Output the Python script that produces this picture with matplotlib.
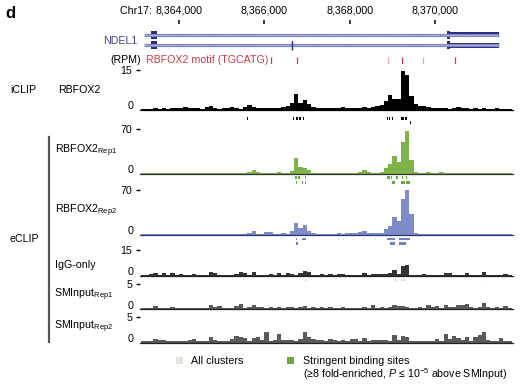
import numpy as np
import matplotlib
matplotlib.use("Agg")
import matplotlib.pyplot as plt
from matplotlib.lines import Line2D
from matplotlib.patches import Rectangle

plt.rcParams['font.family'] = ['Liberation Sans', 'DejaVu Sans']
plt.rcParams['mathtext.fontset'] = 'custom'
plt.rcParams['mathtext.rm'] = 'Liberation Sans'
plt.rcParams['mathtext.it'] = 'Liberation Sans:italic'
plt.rcParams['mathtext.bf'] = 'Liberation Sans:bold'

# ---------------- data ----------------
XMIN, XMAX = 8363086, 8371828
BIN_START, BIN = 8363100, 100
ruler_ticks = [8364000, 8366000, 8368000, 8370000]
ruler_labels = ["8,364,000", "8,366,000", "8,368,000", "8,370,000"]

tx_start, tx_end = 8363180, 8371500
t1_coding = [(8363344, 8363484), (8370281, 8370352)]
t2_coding = [(8363344, 8363484), (8366650, 8366672), (8370281, 8370352)]
utr = [(8370352, 8371500)]

motif_pos = [8366156, 8366766, 8368898, 8369227, 8369719, 8370469]
motif_strong = [True, True, False, True, False, True]

iclip = [0.2, 0.3, 0.2, 0.5, 0.3, 0.6, 0.3, 0.4, 0.7, 0.4,
         0.8, 0.5, 0.6, 0.4, 0.3, 0.9, 1.2, 0.4, 0.3, 0.5,
         0.4, 0.9, 0.7, 0.3, 1.0, 1.6, 0.8, 0.6, 0.5, 0.7,
         0.4, 0.6, 0.5, 0.9, 1.5, 2.5, 5.8, 2.6, 3.5, 2.0,
         0.8, 0.4, 0.5, 0.6, 0.4, 0.5, 0.4, 0.9, 0.7, 0.5,
         0.6, 0.5, 0.8, 0.7, 0.9, 1.2, 1.8, 3.2, 5.5, 4.0,
         3.8, 14.5, 13.2, 5.0, 2.2, 1.5, 1.2, 1.0, 0.6, 0.5,
         0.4, 0.5, 0.3, 0.6, 0.8, 0.7, 0.4, 0.3, 0.5, 0.3,
         0.4, 0.3, 0.2, 0.4, 0.3, 0.2, 0.3]
rep1 = [0.3, 0.4, 0.3, 0.4, 0.3, 0.5, 0.3, 0.4, 0.3, 0.4,
        0.3, 0.4, 0.3, 0.5, 0.4, 0.4, 0.5, 0.3, 0.6, 0.5,
        0.5, 0.8, 1.5, 0.6, 1.0, 2.5, 6.0, 2.0, 1.0, 0.8,
        1.2, 0.8, 1.8, 1.0, 1.5, 4.0, 24.0, 11.0, 8.0, 5.0,
        1.5, 1.0, 0.8, 1.2, 0.7, 0.8, 0.6, 1.0, 0.8, 0.7,
        1.0, 1.8, 5.0, 2.5, 1.5, 1.5, 2.5, 9.0, 15.0, 27.0,
        18.0, 50.0, 67.0, 22.0, 3.0, 1.5, 1.2, 1.8, 0.8, 0.6,
        2.0, 0.8, 0.5, 0.6, 0.5, 0.8, 0.5, 0.4, 0.6, 0.4,
        0.4, 0.3, 0.5, 0.3, 0.3, 0.2, 0.3]
rep2 = [0.3, 0.3, 0.4, 0.3, 0.3, 0.4, 0.3, 0.3, 0.4, 0.3,
        0.3, 0.4, 0.3, 0.3, 0.4, 0.3, 0.4, 0.3, 0.5, 0.4,
        0.6, 0.5, 1.5, 0.6, 1.0, 3.0, 5.0, 1.5, 1.0, 3.5,
        4.0, 1.0, 1.5, 3.0, 1.5, 5.0, 18.0, 10.0, 15.0, 6.0,
        2.0, 1.0, 1.2, 1.5, 0.8, 1.5, 2.0, 1.5, 3.0, 1.8,
        2.5, 4.5, 5.0, 3.0, 2.5, 2.0, 3.0, 8.0, 14.0, 28.0,
        22.0, 56.0, 70.0, 33.0, 2.0, 1.0, 0.8, 1.2, 0.6, 0.8,
        1.0, 1.2, 1.5, 1.0, 0.6, 0.8, 0.5, 0.6, 1.5, 0.5,
        0.6, 0.4, 0.3, 0.4, 0.3, 0.2, 0.3]
igg = [0.3, 0.5, 0.6, 1.2, 0.4, 1.2, 0.4, 1.2, 0.3, 0.8,
       0.3, 0.4, 0.6, 0.3, 0.4, 0.3, 2.2, 1.2, 0.3, 0.4,
       0.3, 0.5, 0.8, 2.0, 1.5, 0.5, 2.0, 0.5, 0.3, 0.4,
       1.0, 0.4, 1.2, 0.3, 1.2, 1.0, 0.5, 1.5, 2.5, 1.8,
       0.4, 0.3, 0.8, 0.3, 1.0, 0.3, 0.8, 0.6, 0.3, 0.4,
       0.3, 0.5, 1.5, 0.4, 0.8, 0.8, 0.6, 0.8, 1.5, 3.0,
       1.0, 5.5, 6.2, 0.5, 0.3, 0.4, 0.8, 0.3, 0.3, 0.3,
       0.4, 1.2, 1.5, 0.5, 0.3, 0.4, 1.5, 0.4, 0.3, 0.3,
       1.8, 0.3, 0.3, 0.3, 0.3, 0.6, 0.3]
sminput1 = [0.2, 0.3, 0.2, 0.6, 0.3, 0.2, 0.3, 0.5, 0.2, 0.2,
            0.3, 0.3, 0.2, 0.3, 0.3, 0.2, 0.8, 0.4, 0.6, 0.2,
            0.3, 0.3, 0.7, 1.0, 0.3, 0.4, 0.8, 0.5, 0.5, 0.3,
            0.4, 0.3, 0.5, 0.3, 0.4, 0.4, 0.3, 0.4, 0.6, 0.3,
            0.4, 0.3, 0.4, 0.3, 0.5, 0.3, 0.2, 0.4, 0.3, 0.2,
            0.3, 0.3, 0.4, 0.3, 0.8, 0.3, 0.4, 0.3, 0.4, 0.8,
            0.7, 0.6, 0.5, 0.3, 0.2, 0.4, 0.3, 0.8, 0.4, 0.6,
            0.3, 0.8, 0.5, 0.4, 0.9, 0.8, 1.0, 0.5, 0.3, 0.4,
            1.2, 0.4, 0.3, 0.5, 0.3, 0.7, 0.2]
sminput2 = [0.2, 0.2, 0.3, 0.65, 0.4, 0.5, 0.3, 0.3, 0.2, 0.2,
            0.2, 0.5, 0.7, 0.3, 0.2, 0.2, 1.0, 0.4, 0.2, 0.3,
            0.3, 0.7, 1.3, 1.1, 0.8, 0.3, 0.8, 1.0, 0.4, 2.0,
            0.3, 0.4, 1.6, 0.5, 0.5, 0.4, 0.3, 0.6, 2.1, 1.0,
            0.6, 0.4, 0.5, 0.3, 0.6, 0.4, 0.3, 0.5, 0.3, 0.6,
            0.6, 0.3, 0.8, 0.3, 0.5, 0.5, 0.4, 0.5, 0.3, 1.4,
            0.5, 1.2, 1.1, 0.3, 0.2, 0.2, 0.3, 0.3, 0.2, 0.6,
            0.3, 1.7, 0.6, 1.3, 0.8, 0.4, 1.1, 0.3, 1.0, 1.4,
            2.0, 0.4, 0.3, 0.3, 0.9, 0.3, 0.2]

# clusters: (start, end, row, stringent)
iclip_clusters = [(8365590, 8365615, 0, True), (8366665, 8366690, 0, True),
                  (8366735, 8366800, 0, True), (8366820, 8366850, 0, True),
                  (8366895, 8366920, 0, True), (8368870, 8368890, 0, True),
                  (8368920, 8368945, 0, True), (8368995, 8369020, 0, True),
                  (8369210, 8369270, 0, True), (8369290, 8369340, 0, True),
                  (8366990, 8367010, 1, True), (8369265, 8369285, 1, True),
                  (8369425, 8369445, 1, True)]
rep1_clusters = [(8365770, 8365790, 0, False), (8366720, 8366760, 0, True),
                 (8366780, 8366830, 0, True), (8366960, 8366985, 0, True),
                 (8368350, 8368370, 0, False), (8368880, 8368940, 0, True),
                 (8368960, 8369000, 0, True), (8369090, 8369140, 0, True),
                 (8369230, 8369260, 0, True), (8369320, 8369345, 0, True),
                 (8366740, 8366760, 1, True), (8366880, 8366900, 1, True),
                 (8366960, 8366985, 1, True), (8368990, 8369070, 1, True),
                 (8369200, 8369290, 1, True), (8369310, 8369420, 1, True)]
rep2_clusters = [(8365750, 8365770, 0, False), (8366740, 8366770, 0, True),
                 (8366880, 8366980, 0, True), (8367720, 8367740, 0, False),
                 (8367840, 8367860, 0, False), (8368070, 8368090, 0, False),
                 (8368320, 8368345, 0, False), (8368600, 8368620, 0, False),
                 (8368880, 8369060, 0, True), (8369150, 8369420, 0, True),
                 (8370530, 8370550, 0, False),
                 (8366750, 8366790, 1, True), (8368950, 8369070, 1, True),
                 (8369160, 8369330, 1, True)]
igg_clusters = [(8364740, 8364760, 0, False), (8366960, 8366990, 0, False),
                (8369070, 8369100, 0, False), (8369200, 8369300, 0, False),
                (8371110, 8371130, 0, False)]

# ---------------- layout ----------------
W, H = 522, 384
FS = 7.7
fig = plt.figure(figsize=(W / 100, H / 100), dpi=100)


def box(x0, y0, x1, y1):
    return fig.add_axes([x0 / W, 1 - y1 / H, (x1 - x0) / W, (y1 - y0) / H])


def ftext(x, y, s, **kw):
    kw.setdefault('va', 'center')
    kw.setdefault('fontsize', FS)
    return fig.text(x / W, 1 - y / H, s, **kw)


def blank(ax):
    ax.set_xlim(XMIN, XMAX)
    ax.set_xticks([])
    ax.set_yticks([])
    for s in ax.spines.values():
        s.set_visible(False)
    ax.patch.set_alpha(0)


X0, X1 = 140, 513

# ruler
ax = box(X0, 20, X1, 24)
blank(ax)
ax.set_ylim(0, 1)
ax.vlines(ruler_ticks, 0, 1, color='black', lw=1.1)
for i, (t, lab) in enumerate(zip(ruler_ticks, ruler_labels)):
    tx = ax.text(t, 3.3, lab, transform=ax.get_xaxis_transform(), ha='center',
                 va='center', fontsize=FS)
    if i == 0:
        ax.annotate("Chr17: ", xy=(0, 0.5), xycoords=tx, ha='right', va='center',
                    fontsize=FS)

# gene model
ax = box(X0, 26.2, X1, 53.8)
blank(ax)
ax.set_ylim(1.8, -0.8)
gene_dark = '#262c78'
for row, coding in enumerate([t1_coding, t2_coding]):
    ax.hlines(row, tx_start, tx_end, color='#7d84c6', lw=2.3)
    ax.hlines(row, tx_start, tx_end, color='white', lw=0.5, linestyles=(0, (1, 1.2)))
    for s, e in coding:
        ax.add_patch(Rectangle((s, row - 0.38), e - s, 0.76, color=gene_dark, lw=0))
    for s, e in utr:
        ax.add_patch(Rectangle((s, row - 0.22), e - s, 0.44, color=gene_dark, lw=0))
ax.vlines([c[0] for c in t2_coding[1:2]], 0.55, 1.45, color=gene_dark, lw=1.0)
ftext(137, 40.5, "NDEL1", ha='right', color='#3b4290')

# motifs
ax = box(X0, 56.5, X1, 63.5)
blank(ax)
ax.set_ylim(0, 1)
for p, strong in zip(motif_pos, motif_strong):
    ax.vlines(p, 0, 1, color='#cc3b45' if strong else '#e8a8aa', lw=0.9)
ftext(141, 60, "(RPM)", ha='right')
ftext(145.5, 60, "RBFOX2 motif (TGCATG)", ha='left', color='#cc3b45')

centers = BIN_START + BIN / 2 + BIN * np.arange(len(iclip))


def signal(y_top, y_bot, vals, ymax, color, base_color):
    a = box(X0, y_top, X1, y_bot)
    a.bar(centers, vals, width=BIN, color=color, lw=0, align='center')
    a.set_xlim(XMIN, XMAX)
    a.set_ylim(0, ymax)
    for s in ['top', 'right', 'left']:
        a.spines[s].set_visible(False)
    a.spines['bottom'].set_color(base_color)
    a.spines['bottom'].set_linewidth(0.9)
    a.set_xticks([])
    a.set_yticks([ymax])
    a.set_yticklabels([str(ymax)])
    a.tick_params(axis='y', length=3, width=1.0, pad=2.6, labelsize=FS)
    a.annotate('0', xy=(0, 0), xycoords='axes fraction', xytext=(-5.0, 2.4),
               textcoords='offset points', ha='right', va='center', fontsize=FS)
    a.patch.set_alpha(0)
    return a


def clusters(y0, y1, nrows, items, strong_color, light_color):
    a = box(X0, y0, X1, y1)
    blank(a)
    a.set_ylim(nrows - 0.5, -0.5)
    for s, e, r, st in items:
        a.barh(r, e - s, left=s, height=0.6, color=strong_color if st else light_color, lw=0)
    return a


signal(70, 109.5, iclip, 15, 'black', 'black')
clusters(116.1, 124.9, 2, iclip_clusters, 'black', '#cccccc')

signal(129, 173.5, rep1, 70, '#7db349', '#333333')
clusters(174.8, 184.8, 2, rep1_clusters, '#6aa843', '#d3e4c4')

signal(190, 234.5, rep2, 70, '#7d8cc9', '#2a3470')
clusters(236.8, 245.8, 2, rep2_clusters, '#7382c4', '#d6dbf0')

signal(250, 275.5, igg, 15, '#333333', '#222222')
clusters(278.3, 281.7, 1, igg_clusters, '#d8dce6', '#d8dce6')

signal(284, 309, sminput1, 5, '#5a5a5a', '#222222')
signal(317, 342.5, sminput2, 5, '#5a5a5a', '#222222')

# labels
ftext(5, 14, "d", ha='left', fontsize=12, fontweight='bold')
ftext(10, 90, "iCLIP", ha='left')
ftext(58, 90, "RBFOX2", ha='left')
ftext(10, 239, "eCLIP", ha='left')
ftext(55, 151, r"RBFOX2$_{\mathregular{Rep1}}$", ha='left')
ftext(55, 211, r"RBFOX2$_{\mathregular{Rep2}}$", ha='left')
ftext(55, 265, "IgG-only", ha='left')
ftext(54, 295, r"SMInput$_{\mathregular{Rep1}}$", ha='left')
ftext(54, 327, r"SMInput$_{\mathregular{Rep2}}$", ha='left')
fig.add_artist(Line2D([49 / W, 49 / W], [1 - 137 / H, 1 - 342 / H], color='#555555', lw=1.6))

# legend
fig.add_artist(Rectangle((176 / W, 1 - 364 / H), 7 / W, 7 / H, color='#dfe8da', lw=0))
ftext(191, 361, "All clusters", ha='left')
fig.add_artist(Rectangle((287 / W, 1 - 364 / H), 7 / W, 7 / H, color='#6aa843', lw=0))
ftext(303, 361, "Stringent binding sites", ha='left')
ftext(303, 374.5, r"(≥8 fold-enriched, $\mathit{P}$ ≤ 10$^{-5}$ above SMInput)", ha='left')

fig.savefig("out.png", dpi=100)
